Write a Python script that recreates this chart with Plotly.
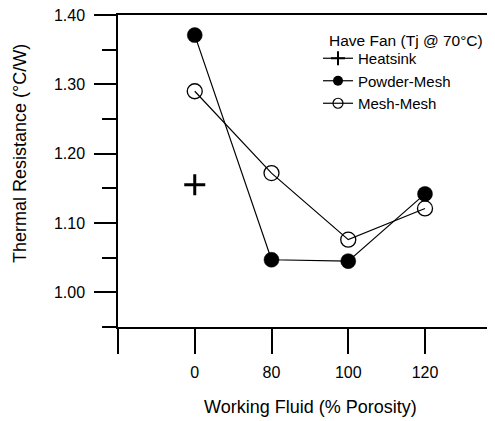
import plotly.graph_objects as go

# categories (x positions 1..4 correspond to labels; position 0 is the unlabeled axis origin)
tick_labels = ["", "0", "80", "100", "120"]
x_heatsink = [1]
y_heatsink = [1.155]
x_powder = [1, 2, 3, 4]
y_powder = [1.371, 1.047, 1.045, 1.142]
x_mesh = [1, 2, 3, 4]
y_mesh = [1.290, 1.172, 1.076, 1.121]

FONT = "Liberation Sans, Arial, Helvetica, sans-serif"
OFF = 8  # browser body margin
W, H = 495 - OFF, 421 - OFF
ML, MR, MT, MB = 118 - OFF, 0, 15 - OFF, 94
PW = W - ML - MR
PH = H - MT - MB


def px_x(px):
    return (px - OFF - ML) / PW


def px_y(py):
    return (MT + PH - (py - OFF)) / PH


fig = go.Figure()

line_style = dict(color="black", width=1.2)

# data traces (no legend)
fig.add_trace(go.Scatter(x=x_heatsink, y=y_heatsink, mode="lines+markers", showlegend=False,
                         line=line_style,
                         marker=dict(symbol="cross-thin", size=15, color="black",
                                     line=dict(color="black", width=3))))
fig.add_trace(go.Scatter(x=x_powder, y=y_powder, mode="lines+markers", showlegend=False,
                         line=line_style,
                         marker=dict(symbol="circle", size=15, color="black",
                                     line=dict(color="black", width=0.5))))
fig.add_trace(go.Scatter(x=x_mesh, y=y_mesh, mode="lines+markers", showlegend=False,
                         line=line_style,
                         marker=dict(symbol="circle-open", size=15, color="black",
                                     line=dict(color="black", width=1.3))))

# legend entries (smaller symbols, like the reference legend)
fig.add_trace(go.Scatter(x=[None], y=[None], mode="lines+markers", name="Heatsink",
                         line=line_style,
                         marker=dict(symbol="cross-thin", size=10, color="black",
                                     line=dict(color="black", width=2))))
fig.add_trace(go.Scatter(x=[None], y=[None], mode="lines+markers", name="Powder-Mesh",
                         line=line_style,
                         marker=dict(symbol="circle", size=10, color="black")))
fig.add_trace(go.Scatter(x=[None], y=[None], mode="lines+markers", name="Mesh-Mesh",
                         line=line_style,
                         marker=dict(symbol="circle-open", size=10, color="black",
                                     line=dict(color="black", width=1.2))))

x_end = PW / 76.75

fig.update_layout(
    width=W, height=H,
    margin=dict(l=ML, r=MR, t=MT, b=MB, pad=0),
    paper_bgcolor="white", plot_bgcolor="white",
    font=dict(family=FONT, size=16, color="black"),
    showlegend=True,
    legend=dict(
        x=px_x(318), y=px_y(42), xanchor="left", yanchor="top",
        bgcolor="rgba(0,0,0,0)", borderwidth=0,
        font=dict(size=15), tracegroupgap=0, itemsizing="trace",
    ),
    xaxis=dict(
        range=[0, x_end], tickmode="array", tickvals=list(range(len(tick_labels))),
        ticktext=tick_labels, ticks="outside", ticklen=25, tickwidth=1.5, tickcolor="black",
        showline=True, linecolor="black", linewidth=1.5, mirror=True,
        showgrid=False, zeroline=False, ticklabelstandoff=5, ticklabeloverflow="allow",
    ),
    yaxis=dict(
        range=[0.95, 1.40], tickmode="array", tickvals=[1.0, 1.1, 1.2, 1.3, 1.4],
        tickformat=".2f", ticks="outside", ticklen=22, tickwidth=1.5, tickcolor="black",
        minor=dict(tickmode="array", tickvals=[0.95, 1.05, 1.15, 1.25, 1.35],
                   ticks="outside", ticklen=14, tickwidth=1.5, tickcolor="black"),
        showline=True, linecolor="black", linewidth=1.5, mirror=False,
        showgrid=False, zeroline=False, ticklabelstandoff=6, ticklabeloverflow="allow",
    ),
    annotations=[
        dict(text="Have Fan (Tj @ 70°C)", showarrow=False,
             xref="paper", yref="paper", x=px_x(327), y=px_y(40),
             xanchor="left", yanchor="middle", font=dict(size=15.5)),
        dict(text="Thermal Resistance (°C/W)", textangle=-90, showarrow=False,
             xref="paper", yref="paper", x=px_x(20), y=px_y(154),
             xanchor="center", yanchor="middle", font=dict(size=18)),
        dict(text="Working Fluid (% Porosity)", showarrow=False,
             xref="paper", yref="paper", x=px_x(310), y=px_y(407),
             xanchor="center", yanchor="middle", font=dict(size=18)),
    ],
)

fig.write_html("out.html")
